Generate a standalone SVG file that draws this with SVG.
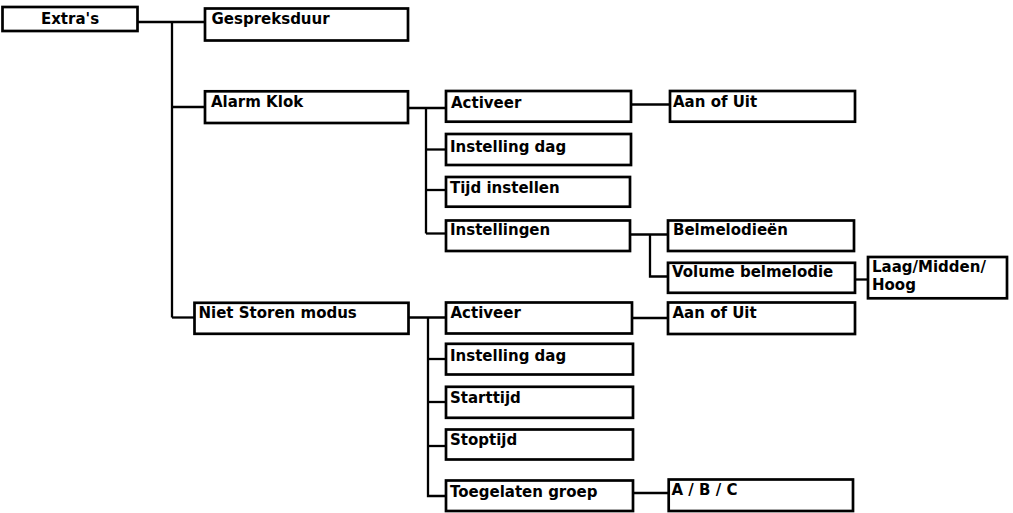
<svg xmlns="http://www.w3.org/2000/svg" width="1013" height="513" viewBox="0 0 1013 513">
<style>
.box{fill:#fff;stroke:#000;stroke-width:2.7}
.lbl{font-family:"DejaVu Sans",sans-serif;font-weight:bold;font-size:15px;fill:#000}
.con{fill:none;stroke:#000;stroke-width:2.3}
</style>
<rect width="1013" height="513" fill="#fff"/>
<g id="connectors" class="con">
<path d="M137.5 22H205"/>
<path d="M172 22V317.5"/>
<path d="M172 107H205"/>
<path d="M172 317.5H194.5"/>
<path d="M408 108H446"/>
<path d="M426 108V233.5"/>
<path d="M426 149.5H446"/>
<path d="M426 190H446"/>
<path d="M426 233.5H446"/>
<path d="M631 104.5H670"/>
<path d="M630 234.5H668"/>
<path d="M650 234.5V276.5H668"/>
<path d="M855 279.5H868"/>
<path d="M408 317.5H446"/>
<path d="M428 317.5V496H446"/>
<path d="M428 359H446"/>
<path d="M428 402H446"/>
<path d="M428 446H446"/>
<path d="M632 318H668"/>
<path d="M633 493H668.7"/>
</g>
<g id="extras"><rect class="box" x="2.5" y="7" width="135" height="24"/><text class="lbl" x="70" y="24" text-anchor="middle">Extra's</text></g>
<g id="gespreksduur"><rect class="box" x="205" y="8.5" width="203" height="32"/><text class="lbl" x="211.5" y="24">Gespreksduur</text></g>
<g id="alarmklok"><rect class="box" x="205" y="91.3" width="203" height="31.7"/><text class="lbl" x="211" y="107">Alarm Klok</text></g>
<g id="ak-activeer"><rect class="box" x="446" y="91" width="185" height="30.7"/><text class="lbl" x="451" y="107.5">Activeer</text></g>
<g id="ak-aanofuit"><rect class="box" x="670" y="91" width="185" height="30.7"/><text class="lbl" x="673" y="107">Aan of Uit</text></g>
<g id="ak-instellingdag"><rect class="box" x="446" y="134" width="185" height="31"/><text class="lbl" x="450" y="151.5">Instelling dag</text></g>
<g id="ak-tijdinstellen"><rect class="box" x="446" y="177" width="184" height="29.7"/><text class="lbl" x="450" y="193">Tijd instellen</text></g>
<g id="ak-instellingen"><rect class="box" x="446" y="220.5" width="184" height="30.5"/><text class="lbl" x="450" y="235">Instellingen</text></g>
<g id="belmelodieen"><rect class="box" x="668" y="220.5" width="186" height="30.5"/><text class="lbl" x="673" y="235">Belmelodieën</text></g>
<g id="volume"><rect class="box" x="668" y="262.8" width="187" height="30"/><text class="lbl" x="672" y="277">Volume belmelodie</text></g>
<g id="laagmiddenhoog"><rect class="box" x="868" y="257" width="139" height="41.3"/><text class="lbl" x="872" y="272">Laag/Midden/</text><text class="lbl" x="872" y="290">Hoog</text></g>
<g id="nietstoren"><rect class="box" x="194.5" y="302.8" width="214" height="31"/><text class="lbl" x="198.5" y="317.5">Niet Storen modus</text></g>
<g id="ns-activeer"><rect class="box" x="446" y="302.5" width="186" height="31"/><text class="lbl" x="450.5" y="318">Activeer</text></g>
<g id="ns-aanofuit"><rect class="box" x="668" y="302.5" width="187" height="31.5"/><text class="lbl" x="672.5" y="318">Aan of Uit</text></g>
<g id="ns-instellingdag"><rect class="box" x="446" y="343.8" width="187" height="30.7"/><text class="lbl" x="450" y="361">Instelling dag</text></g>
<g id="starttijd"><rect class="box" x="446" y="386.8" width="187" height="31"/><text class="lbl" x="450" y="403">Starttijd</text></g>
<g id="stoptijd"><rect class="box" x="446" y="429.5" width="187" height="30"/><text class="lbl" x="450" y="445">Stoptijd</text></g>
<g id="toegelaten"><rect class="box" x="446" y="480.5" width="187" height="30.5"/><text class="lbl" x="450" y="496.5">Toegelaten groep</text></g>
<g id="abc"><rect class="box" x="668.7" y="479.5" width="184.3" height="31.5"/><text class="lbl" x="671.5" y="495">A / B / C</text></g>
</svg>
